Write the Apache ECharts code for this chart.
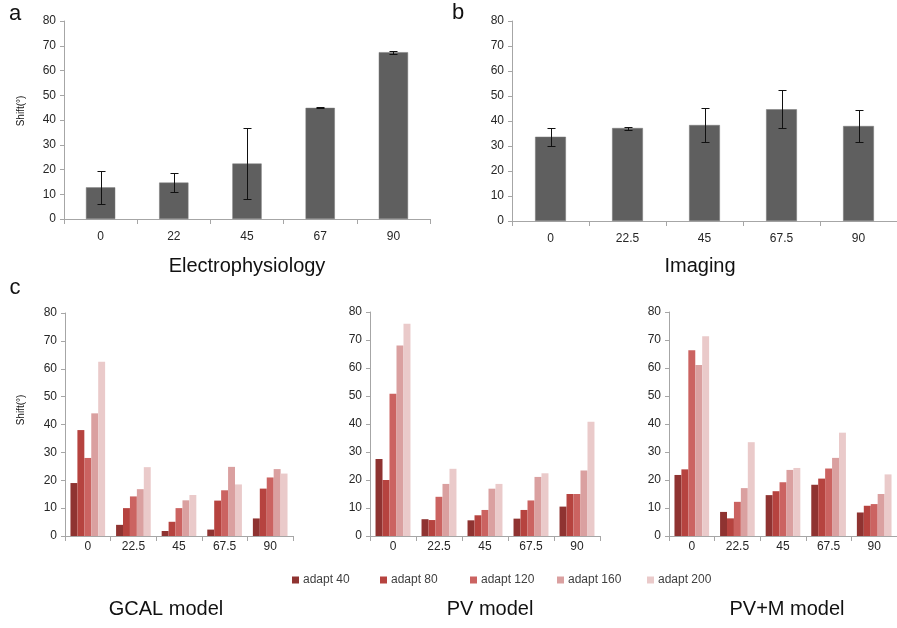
<!DOCTYPE html>
<html>
<head>
<meta charset="utf-8">
<script src="https://cdn.jsdelivr.net/npm/echarts@6/dist/echarts.min.js"></script>
<style>
  html, body { margin: 0; padding: 0; background: #fff; }
  #chart { width: 897px; height: 628px; }
</style>
</head>
<body>
<div id="chart"></div>
<script>
// Orientation shift (degrees) measured per stimulus angle
const elecAngles = ['0', '22', '45', '67', '90'];
const elecShift = [12.8, 14.7, 22.4, 44.9, 67.4];
const elecErr = [6.7, 3.8, 14.3, 0.2, 0.6];

const imgAngles = ['0', '22.5', '45', '67.5', '90'];
const imgShift = [33.7, 37.2, 38.4, 44.7, 38.0];
const imgErr = [3.6, 0.6, 6.8, 7.5, 6.5];

// Model results: one row per adaptation level, one value per angle
const modelAngles = ['0', '22.5', '45', '67.5', '90'];
const adaptNames = ['adapt 40', 'adapt 80', 'adapt 120', 'adapt 160', 'adapt 200'];
const adaptColors = ['#8f3331', '#b6433f', '#cb6361', '#daa0a0', '#eacaca'];

const gcalShift = [
  [19.0, 4.0, 1.8, 2.3, 6.3],
  [38.0, 10.0, 5.1, 12.7, 17.0],
  [28.0, 14.2, 10.0, 16.4, 21.0],
  [44.0, 16.8, 12.8, 24.8, 24.0],
  [62.5, 24.7, 14.7, 18.5, 22.4]
];
const pvShift = [
  [27.5, 6.0, 5.6, 6.2, 10.5],
  [20.0, 5.7, 7.4, 9.3, 15.0],
  [50.8, 14.0, 9.3, 12.7, 15.0],
  [68.0, 18.6, 16.9, 21.1, 23.4],
  [75.8, 24.0, 18.6, 22.4, 40.8]
];
const pvmShift = [
  [21.8, 8.6, 14.6, 18.3, 8.4],
  [23.8, 6.3, 16.0, 20.5, 10.8],
  [66.3, 12.2, 19.2, 24.1, 11.4],
  [61.1, 17.1, 23.6, 27.9, 15.0],
  [71.3, 33.5, 24.3, 36.9, 22.0]
];

const yTicksMax = 80;
const yTickStep = 10;

const FONT = '"Liberation Sans", Arial, sans-serif';
const axisGray = '#a6a6a6';
const textColor = '#262626';

const grids = [
  { left: 64, top: 21, width: 366, height: 198 },   // a
  { left: 512, top: 21, width: 388, height: 200 },  // b
  { left: 65, top: 313, width: 228, height: 223 },  // c GCAL
  { left: 370, top: 312, width: 230, height: 224 }, // c PV
  { left: 669, top: 312, width: 230, height: 224 }  // c PV+M
];

function xAxisFor(gi, cats, margin) {
  return {
    type: 'category', gridIndex: gi, data: cats,
    axisLine: { lineStyle: { color: axisGray, width: 1 } },
    axisTick: { show: true, length: 5, lineStyle: { color: axisGray } },
    axisLabel: { color: textColor, fontSize: 12, fontFamily: FONT, margin: margin },
    splitLine: { show: false }
  };
}
function yAxisFor(gi) {
  return {
    type: 'value', gridIndex: gi, min: 0, max: yTicksMax, interval: yTickStep,
    axisLine: { show: true, lineStyle: { color: axisGray, width: 1 } },
    axisTick: { show: true, length: 4, lineStyle: { color: axisGray } },
    axisLabel: { color: textColor, fontSize: 12, fontFamily: FONT, margin: 8 },
    splitLine: { show: false }
  };
}

function errorBars(gi, mean, err) {
  return {
    type: 'custom', xAxisIndex: gi, yAxisIndex: gi, z: 10,
    data: mean.map((m, i) => [i, m - err[i], m + err[i]]),
    encode: { x: 0, y: [1, 2] },
    renderItem(params, api) {
      const lo = api.coord([api.value(0), api.value(1)]);
      const hi = api.coord([api.value(0), api.value(2)]);
      const x = Math.round(lo[0]) + 0.5;
      const yl = Math.round(lo[1]) + 0.5;
      const yh = Math.round(hi[1]) + 0.5;
      const half = 4;
      const st = { stroke: '#111', lineWidth: 1 };
      return {
        type: 'group',
        children: [
          { type: 'line', shape: { x1: x, y1: yh, x2: x, y2: yl }, style: st },
          { type: 'line', shape: { x1: x - half, y1: yh, x2: x + half, y2: yh }, style: st },
          { type: 'line', shape: { x1: x - half, y1: yl, x2: x + half, y2: yl }, style: st }
        ]
      };
    }
  };
}

const series = [
  { type: 'bar', xAxisIndex: 0, yAxisIndex: 0, data: elecShift, barWidth: '40%',
    itemStyle: { color: '#5f5f5f', borderColor: '#7a7a7a', borderWidth: 0.5 } },
  errorBars(0, elecShift, elecErr),
  { type: 'bar', xAxisIndex: 1, yAxisIndex: 1, data: imgShift, barWidth: '40%',
    itemStyle: { color: '#5f5f5f', borderColor: '#7a7a7a', borderWidth: 0.5 } },
  errorBars(1, imgShift, imgErr)
];

[gcalShift, pvShift, pvmShift].forEach((rows, k) => {
  const gi = k + 2;
  rows.forEach((vals, j) => {
    series.push({
      type: 'bar', name: adaptNames[j], xAxisIndex: gi, yAxisIndex: gi,
      data: vals, barGap: '0%', barCategoryGap: '24%',
      itemStyle: { color: adaptColors[j] }
    });
  });
});

const legendLefts = [292, 380, 470, 557, 647];
const legends = adaptNames.map((n, j) => ({
  data: [n], left: legendLefts[j], top: 574, padding: 0,
  icon: 'rect', itemWidth: 7, itemHeight: 7, itemGap: 0,
  selectedMode: false,
  textStyle: { color: '#404040', fontSize: 12, fontFamily: FONT, padding: [0, 0, 0, -1] }
}));

function label(text, x, y, size, opts) {
  return Object.assign({
    type: 'text', x: x, y: y,
    style: { text: text, fill: '#111', font: size + 'px ' + FONT, textAlign: 'center', textVerticalAlign: 'middle' }
  }, opts || {});
}

const graphics = [
  label('a', 15, 14, 22),
  label('b', 458, 13, 22),
  label('c', 15, 288, 22),
  label('Electrophysiology', 247, 266, 20),
  label('Imaging', 700, 266, 20),
  label('GCAL model', 166, 609, 20),
  label('PV model', 490, 609, 20),
  label('PV+M model', 787, 609, 20),
  label('Shift(°)', 21, 111, 10, { rotation: Math.PI / 2 }),
  label('Shift(°)', 21, 410, 10, { rotation: Math.PI / 2 })
];

const chart = echarts.init(document.getElementById('chart'), null, { renderer: 'canvas' });
chart.setOption({
  animation: false,
  backgroundColor: '#fff',
  grid: grids,
  xAxis: [
    xAxisFor(0, elecAngles, 12),
    xAxisFor(1, imgAngles, 12),
    xAxisFor(2, modelAngles, 5),
    xAxisFor(3, modelAngles, 5),
    xAxisFor(4, modelAngles, 5)
  ],
  yAxis: [0, 1, 2, 3, 4].map(yAxisFor),
  legend: legends,
  series: series,
  graphic: graphics
});
</script>
</body>
</html>
